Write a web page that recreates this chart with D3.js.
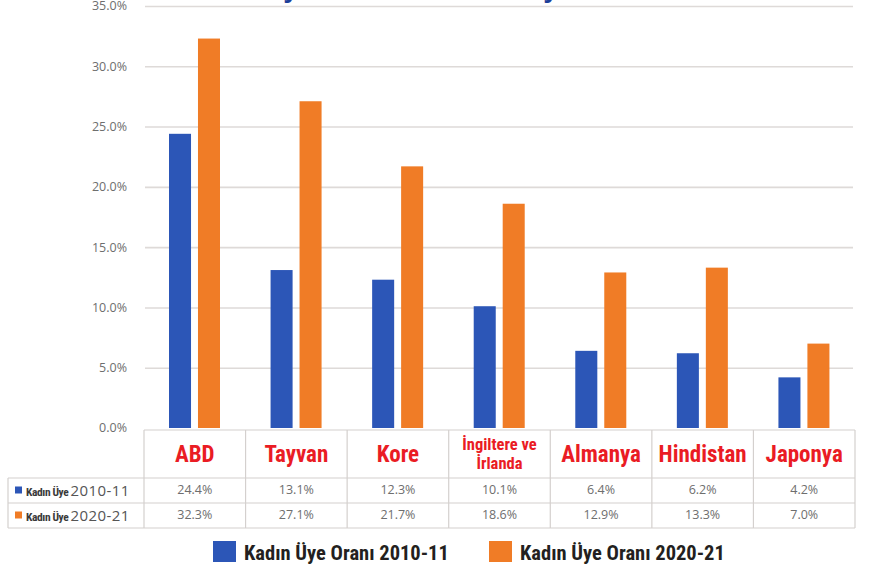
<!DOCTYPE html>
<html>
<head>
<meta charset="utf-8">
<script src="https://cdn.jsdelivr.net/npm/d3@7"></script>
<style>
  body { margin: 0; background: #fff; }
  svg { display: block; }
  .narrow { font-family: "Liberation Sans Narrow", "Arial Narrow", "Roboto Condensed", Roboto, sans-serif; }
  .tick-label { font-family: "Open Sans", "DejaVu Sans", sans-serif; font-size: 12.5px; fill: #6e6e6e; }
</style>
</head>
<body>
<script>
// chart data
var countries = ["ABD", "Tayvan", "Kore", "İngiltere ve|İrlanda", "Almanya", "Hindistan", "Japonya"];
var series = ["2010-11", "2020-21"];
var values2010 = [24.4, 13.1, 12.3, 10.1, 6.4, 6.2, 4.2];
var values2020 = [32.3, 27.1, 21.7, 18.6, 12.9, 13.3, 7.0];
var yTicks = [0, 5, 10, 15, 20, 25, 30, 35];
var legendLabels = ["Kadın Üye Oranı 2010-11", "Kadın Üye Oranı 2020-21"];
var colors = ["#2c56b7", "#f07c26"];

var width = 877, height = 567;

var svg = d3.select("body").append("svg")
    .attr("width", width)
    .attr("height", height);

// scales
var x = d3.scaleBand()
    .domain(countries)
    .range([144, 855]);

var xInner = d3.scaleBand()
    .domain(series)
    .range([25, 76])
    .paddingInner(0.24);

var y = d3.scaleLinear()
    .domain([0, 35])
    .range([428, 6]);

// cropped title descenders at the top edge
svg.selectAll(".title-frag")
    .data([291, 551])
    .enter().append("text")
    .attr("class", "title-frag")
    .attr("x", function (d) { return d; })
    .attr("y", -3)
    .attr("text-anchor", "middle")
    .style("font-family", "Liberation Sans, sans-serif")
    .style("font-weight", "bold")
    .style("font-size", "28px")
    .style("fill", "#1d3f99")
    .text("y");

// gridlines
var yGrid = d3.axisLeft(y)
    .tickValues(yTicks.slice(1))
    .tickFormat("")
    .tickSize(-(853 - 145));

svg.append("g")
    .attr("class", "gridlines")
    .attr("transform", "translate(145,0)")
    .call(yGrid)
    .call(function (g) {
        g.select(".domain").remove();
        g.selectAll("line").attr("stroke", "#dedad8").attr("stroke-width", 1.6);
    });

// y tick labels
svg.append("g").selectAll("text")
    .data(yTicks)
    .enter().append("text")
    .attr("class", "tick-label")
    .attr("x", 127)
    .attr("y", function (d) { return y(d); })
    .attr("dy", "0.35em")
    .attr("text-anchor", "end")
    .text(function (d) { return d.toFixed(1) + "%"; });

// bars
var rows = countries.map(function (c, i) {
    return { country: c, vals: [values2010[i], values2020[i]] };
});

var groups = svg.append("g").selectAll("g")
    .data(rows)
    .enter().append("g")
    .attr("transform", function (d) { return "translate(" + x(d.country) + ",0)"; });

groups.selectAll("rect")
    .data(function (d) {
        return series.map(function (s, j) { return { s: s, v: d.vals[j], j: j }; });
    })
    .enter().append("rect")
    .attr("x", function (d) { return xInner(d.s); })
    .attr("width", xInner.bandwidth())
    .attr("y", function (d) { return y(d.v); })
    .attr("height", function (d) { return y(0) - y(d.v); })
    .attr("fill", function (d) { return colors[d.j]; });

// data table
var tableTop = 430, headBottom = 478, row1Bottom = 503, row2Bottom = 528, tableLeft = 8;
var table = svg.append("g").attr("stroke", "#d4d0ce").attr("stroke-width", 1.2);

table.append("line").attr("x1", 144).attr("x2", 855).attr("y1", tableTop).attr("y2", tableTop);
[headBottom, row1Bottom, row2Bottom].forEach(function (yy) {
    table.append("line").attr("x1", tableLeft).attr("x2", 855).attr("y1", yy).attr("y2", yy);
});
table.append("line").attr("x1", tableLeft).attr("x2", tableLeft).attr("y1", headBottom).attr("y2", row2Bottom);
x.domain().concat([null]).forEach(function (c) {
    var xx = c === null ? 855 : x(c);
    table.append("line").attr("x1", xx).attr("x2", xx).attr("y1", tableTop).attr("y2", row2Bottom);
});

// header (country names)
var header = svg.append("g").selectAll("text")
    .data(countries)
    .enter().append("text")
    .attr("class", "narrow")
    .attr("x", function (d) { return x(d) + x.bandwidth() / 2; })
    .attr("text-anchor", "middle")
    .style("font-weight", "bold")
    .style("fill", "#ea1c24");

header.each(function (d) {
    var el = d3.select(this);
    var parts = d.split("|");
    if (parts.length === 1) {
        el.attr("y", 462).style("font-size", "23px").text(d);
    } else {
        el.style("font-size", "16.5px");
        parts.forEach(function (p, k) {
            el.append("tspan")
                .attr("x", x(d) + x.bandwidth() / 2)
                .attr("y", 450 + k * 19)
                .text(p);
        });
    }
});

// value rows
var valueRows = [values2010, values2020];
var rowCenters = [490, 515];

valueRows.forEach(function (vals, r) {
    svg.append("g").selectAll("text")
        .data(vals)
        .enter().append("text")
        .attr("class", "tick-label")
        .attr("x", function (d, i) { return x(countries[i]) + x.bandwidth() / 2; })
        .attr("y", rowCenters[r])
        .attr("dy", "0.35em")
        .attr("text-anchor", "middle")
        .text(function (d) { return d.toFixed(1) + "%"; });

    svg.append("rect")
        .attr("x", 15)
        .attr("y", rowCenters[r] - 3.5)
        .attr("width", 7)
        .attr("height", 7)
        .attr("fill", colors[r]);

    var lab = svg.append("text")
        .attr("x", 26)
        .attr("y", rowCenters[r])
        .attr("dy", "0.35em");
    lab.append("tspan")
        .attr("class", "narrow")
        .style("font-size", "11.5px")
        .style("font-weight", "bold")
        .style("fill", "#3a3a3a")
        .style("letter-spacing", "-0.4px")
        .text("Kadın Üye ");
    lab.append("tspan")
        .style("font-family", "Open Sans, DejaVu Sans, sans-serif")
        .style("font-size", "15px")
        .style("fill", "#555")
        .style("letter-spacing", "0.4px")
        .text(series[r]);
});

// bottom legend
var legendX = [213, 489];
var legend = svg.append("g").selectAll("g")
    .data(legendLabels)
    .enter().append("g")
    .attr("transform", function (d, i) { return "translate(" + legendX[i] + ",541)"; });

legend.append("rect")
    .attr("width", 23)
    .attr("height", 21)
    .attr("fill", function (d, i) { return colors[i]; });

legend.append("text")
    .attr("class", "narrow")
    .attr("x", 31)
    .attr("y", 19)
    .style("font-weight", "bold")
    .style("font-size", "20.5px")
    .style("fill", "#231f20")
    .text(function (d) { return d; });
</script>
</body>
</html>
